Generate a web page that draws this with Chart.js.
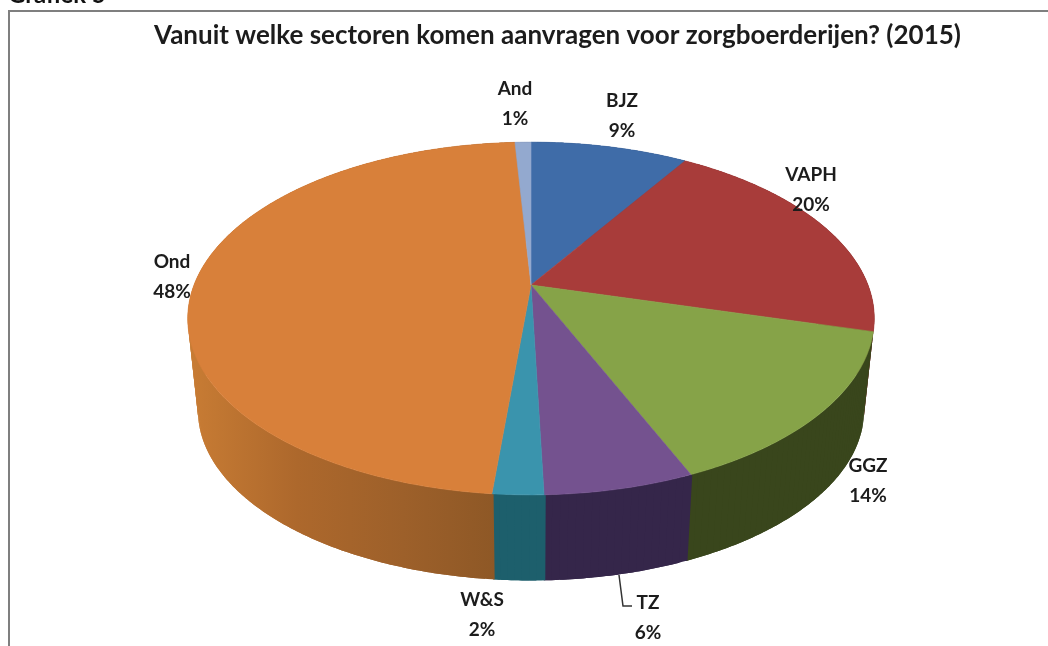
<!DOCTYPE html>
<html><head><meta charset="utf-8">
<style>html,body{margin:0;padding:0;background:#fff;overflow:hidden}#w{position:relative;width:1048px;height:646px}canvas{display:block;filter:blur(0.5px)}</style>
<script src="https://cdn.jsdelivr.net/npm/chart.js@4"></script></head>
<body><div id="w"><canvas id="c" width="1048" height="646"></canvas></div>
<script>
const categories = ['BJZ','VAPH','GGZ','TZ','W&S','Ond','And'];
const shares = [8.9, 20.3, 14.4, 5.9, 2, 47.6, 0.9];
const chartTitle = 'Vanuit welke sectoren komen aanvragen voor zorgboerderijen? (2015)';
const heading = 'Grafiek 5';

const topColors = ['#3f6ca8','#a83c3a','#86a348','#74528f','#3a94ad','#d8803a','#93a9cf'];
const wallColors = ['#2b4a75','#742a28','#39461c','#35264a','#1d5f6c',null,'#667590'];
const labelAt = [[622,101],[811,175],[868,466],[648,603],[482,600],[172,262],[515,89]];
const FONT = 'Lato, Carlito, "Open Sans", sans-serif';
const K = 0.19, CX = 531;
const TOP = {a:337,b:170,y0:285}, BASE = {a:327,b:164,y0:378};
function proj(t,L){const u=Math.sin(t),v=-Math.cos(t),d=1-K*v;return [CX+L.a*u/d,L.y0+L.b*v/d];}
function rim(ctx,s,e,L,first){const n=Math.max(4,Math.ceil(Math.abs(e-s)/0.01));
  for(let i=0;i<=n;i++){const p=proj(s+(e-s)*i/n,L);if(i===0&&first)ctx.moveTo(p[0],p[1]);else ctx.lineTo(p[0],p[1]);}}

const pie3d = {id:'pie3d',
  beforeDatasetsDraw(chart){
    const ctx=chart.ctx, arcs=chart.getDatasetMeta(0).data;
    ctx.save();
    // frame and clipped heading
    ctx.strokeStyle='#7f7f7f';ctx.lineWidth=2;ctx.beginPath();ctx.moveTo(9,646);ctx.lineTo(9,11);ctx.lineTo(1048,11);ctx.stroke();
    ctx.fillStyle='#111';ctx.font='bold 24px '+FONT;ctx.textAlign='left';ctx.textBaseline='alphabetic';ctx.fillText(heading,8,3);
    // walls, built from overlapping strips so the fold at the silhouette stays filled without seams
    arcs.forEach((arc,i)=>{
      const s=arc.startAngle+Math.PI/2,e=arc.endAngle+Math.PI/2;
      let fill=wallColors[i];
      if(!fill){fill=ctx.createLinearGradient(190,0,495,0);
        fill.addColorStop(0,'#c87c34');fill.addColorStop(.35,'#ad682c');fill.addColorStop(.7,'#9d602a');fill.addColorStop(1,'#8e5826');}
      ctx.fillStyle=fill;
      const n=Math.max(2,Math.ceil((e-s)/0.02)),st=(e-s)/n;
      for(let j=0;j<n;j++){
        const a=s+st*j-(j===0?0.004:0),b=Math.min(e,s+st*(j+2));
        ctx.beginPath();rim(ctx,a,b,TOP,true);rim(ctx,b,a,BASE,false);ctx.closePath();ctx.fill();
      }
    });
    // top surface
    const apex=[CX,TOP.y0];
    arcs.forEach((arc,i)=>{
      const s=arc.startAngle+Math.PI/2,e=arc.endAngle+Math.PI/2;
      ctx.beginPath();ctx.moveTo(apex[0],apex[1]);rim(ctx,s,e,TOP,false);ctx.closePath();
      ctx.fillStyle=topColors[i];ctx.strokeStyle=topColors[i];ctx.lineWidth=.6;ctx.fill();ctx.stroke();
    });
    // leader for TZ
    ctx.strokeStyle='#333';ctx.lineWidth=1.5;ctx.beginPath();ctx.moveTo(619,575);ctx.lineTo(623,606);ctx.lineTo(632,606);ctx.stroke();
    // labels
    ctx.fillStyle='#1c1c1c';ctx.font='bold 19px '+FONT;ctx.textAlign='center';ctx.textBaseline='middle';
    categories.forEach((c,i)=>{const [x,y]=labelAt[i];ctx.fillText(c,x,y);ctx.fillText(Math.round(shares[i])+'%',x,y+30);});
    ctx.restore();
    return false;
  }};

new Chart(document.getElementById('c'),{
  type:'pie',
  data:{labels:categories,datasets:[{data:shares,backgroundColor:topColors,borderWidth:0}]},
  options:{responsive:false,animation:false,
    layout:{padding:{left:67,top:0}},
    plugins:{legend:{display:false},tooltip:{enabled:false},
      title:{display:true,text:chartTitle,color:'#1c1c1c',fullSize:false,
        font:{family:FONT,size:26,weight:'bold'},padding:{top:20,bottom:10}}}},
  plugins:[pie3d]
});
</script></body></html>
